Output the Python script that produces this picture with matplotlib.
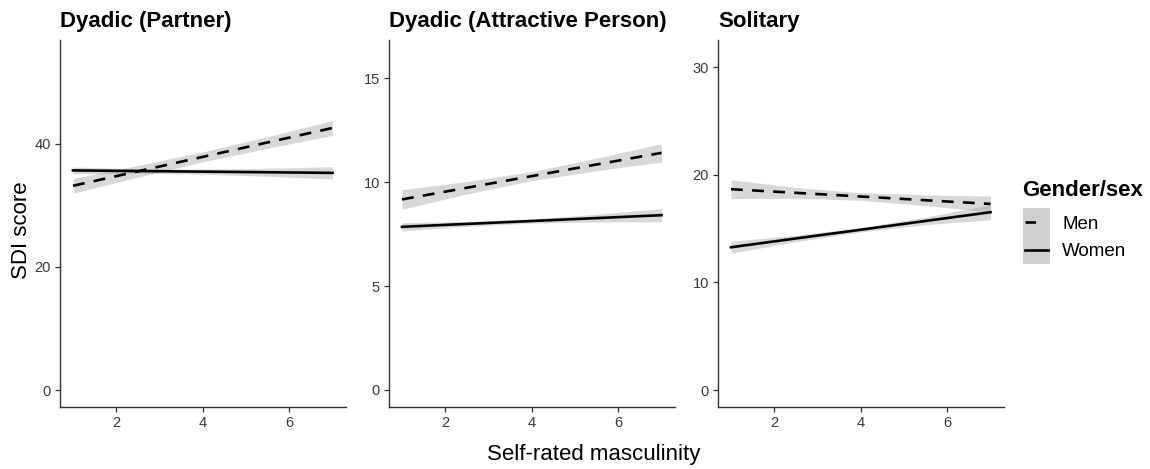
import matplotlib
matplotlib.use("Agg")
import matplotlib.pyplot as plt
from matplotlib.lines import Line2D

plt.rcParams['font.family'] = ['Liberation Sans', 'DejaVu Sans']

# ---------------- data ----------------
panel_titles = ["Dyadic (Partner)", "Dyadic (Attractive Person)", "Solitary"]
x_pts = [1, 2.5, 4, 5.5, 7]

# Partner
p1_men_fit = [33.2, 35.55, 37.9, 40.25, 42.6]
p1_men_lo = [32.0, 34.6, 37.1, 39.3, 41.4]
p1_men_hi = [34.4, 36.5, 38.7, 41.2, 43.8]
p1_wom_fit = [35.7, 35.6, 35.5, 35.4, 35.3]
p1_wom_lo = [35.15, 35.25, 35.1, 34.75, 34.3]
p1_wom_hi = [36.25, 35.95, 35.9, 36.05, 36.3]

# Attractive person
p2_men_fit = [9.17, 9.73, 10.29, 10.85, 11.41]
p2_men_lo = [8.70, 9.43, 10.07, 10.55, 10.97]
p2_men_hi = [9.64, 10.03, 10.51, 11.15, 11.85]
p2_wom_fit = [7.85, 7.99, 8.13, 8.27, 8.41]
p2_wom_lo = [7.65, 7.87, 8.03, 8.09, 8.09]
p2_wom_hi = [8.05, 8.11, 8.23, 8.45, 8.73]

# Solitary
p3_men_fit = [18.67, 18.33, 17.99, 17.64, 17.30]
p3_men_lo = [17.79, 17.83, 17.64, 17.14, 16.57]
p3_men_hi = [19.55, 18.83, 18.34, 18.14, 18.03]
p3_wom_fit = [13.27, 14.09, 14.90, 15.72, 16.53]
p3_wom_lo = [12.72, 13.79, 14.70, 15.37, 15.83]
p3_wom_hi = [13.82, 14.39, 15.10, 16.07, 17.23]

y_ticks = [[0, 20, 40], [0, 5, 10, 15], [0, 10, 20, 30]]
y_lims = [(-2.76, 56.9), (-0.82, 16.84), (-1.58, 32.54)]
x_ticks = [2, 4, 6]
legend_labels = ["Men", "Women"]

panels = [
    (p1_men_fit, p1_men_lo, p1_men_hi, p1_wom_fit, p1_wom_lo, p1_wom_hi),
    (p2_men_fit, p2_men_lo, p2_men_hi, p2_wom_fit, p2_wom_lo, p2_wom_hi),
    (p3_men_fit, p3_men_lo, p3_men_hi, p3_wom_fit, p3_wom_lo, p3_wom_hi),
]

# ---------------- figure ----------------
W, H = 1150, 469
fig = plt.figure(figsize=(W / 100, H / 100), dpi=100)

def fx(px):
    return px / W

def fy(py):
    return 1 - py / H

lefts = [60, 389, 718]
pw = 285.5
top, bottom = 40, 407
band_color = '#999999'
axis_col = '#333333'
tick_col = '#3a3a3a'
lw = 1.9
dash = (4.5, 3.5)

for i, (left, data) in enumerate(zip(lefts, panels)):
    ax = fig.add_axes([fx(left), fy(bottom), pw / W, (bottom - top) / H])
    mf, ml, mh, wf, wl, wh = data
    ax.fill_between(x_pts, ml, mh, color=band_color, alpha=0.38, lw=0)
    ax.fill_between(x_pts, wl, wh, color=band_color, alpha=0.38, lw=0)
    ax.plot(x_pts, mf, color='black', lw=lw, dashes=dash, dash_capstyle='butt')
    ax.plot(x_pts, wf, color='black', lw=lw)
    ax.set_xlim(0.7, 7.3)
    ax.set_ylim(*y_lims[i])
    ax.set_xticks(x_ticks)
    ax.set_yticks(y_ticks[i])
    for s in ['top', 'right']:
        ax.spines[s].set_visible(False)
    for s in ['left', 'bottom']:
        ax.spines[s].set_color(axis_col)
        ax.spines[s].set_linewidth(1.0)
    ax.tick_params(axis='both', length=3.6, width=0.9, color=axis_col,
                   labelsize=10.5, labelcolor=tick_col, pad=3)
    fig.text(fx(left), fy(27), panel_titles[i], fontsize=16, fontweight='bold',
             ha='left', va='baseline')

# axis labels
fig.text(fx(22), fy(230), "SDI score", rotation=90, fontsize=16,
         ha='center', va='center')
fig.text(fx(594), fy(460), "Self-rated masculinity", fontsize=16,
         ha='center', va='baseline')

# legend (manual)
fig.text(fx(1022), fy(191), "Gender/sex", fontsize=16, fontweight='bold',
         ha='left', va='center')
lax = fig.add_axes([fx(1023), fy(264), 27 / W, 56 / H])
lax.set_xlim(0, 1)
lax.set_ylim(0, 1)
lax.axis('off')
lax.add_patch(plt.Rectangle((0, 0), 1, 1, color='#D0D0D0', lw=0))
lax.add_line(Line2D([0.08, 0.95], [0.75, 0.75], color='black', lw=lw,
                    dashes=(4, 10), dash_capstyle='butt'))
lax.add_line(Line2D([0.08, 0.95], [0.25, 0.25], color='black', lw=lw))
fig.text(fx(1062), fy(224), legend_labels[0], fontsize=13.5, ha='left', va='center')
fig.text(fx(1062), fy(251), legend_labels[1], fontsize=13.5, ha='left', va='center')

fig.savefig("out.png", dpi=100)
